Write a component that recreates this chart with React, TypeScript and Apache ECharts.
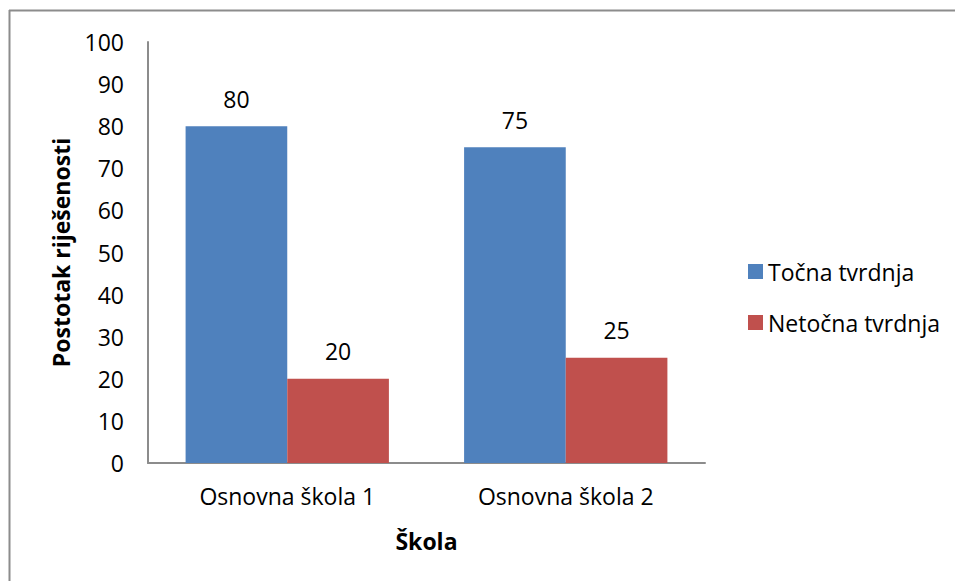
import React, { useEffect, useRef } from "react";
import * as echarts from "echarts";

const categories = ["Osnovna škola 1", "Osnovna škola 2"];
const tocna = [80, 75];
const netocna = [20, 25];
const seriesNames = ["Točna tvrdnja", "Netočna tvrdnja"];
const yTitle = "Postotak riješenosti";
const xTitle = "Škola";

const FONT = "'Open Sans', 'Noto Sans', sans-serif";

export default function App() {
  const ref = useRef<HTMLDivElement>(null);
  useEffect(() => {
    if (!ref.current) return;
    const chart = echarts.init(ref.current, undefined, { renderer: "svg" });
    const labelStyle = { fontFamily: FONT, fontSize: 23, color: "#000" };
    chart.setOption({
      animation: false,
      backgroundColor: "#fff",
      textStyle: { fontFamily: FONT },
      grid: { left: 148, right: 250, top: 42, bottom: 118, containLabel: false },
      graphic: [
        { type: "line", shape: { x1: 9, y1: 10.5, x2: 960, y2: 10.5 }, style: { stroke: "#8c8c8c", lineWidth: 2 } },
        { type: "line", shape: { x1: 9.5, y1: 10, x2: 9.5, y2: 590 }, style: { stroke: "#8c8c8c", lineWidth: 2 } },
      ],
      legend: {
        orient: "vertical",
        left: 748,
        top: 260,
        padding: 0,
        itemWidth: 15,
        itemHeight: 15,
        itemGap: 28,
        icon: "rect",
        textStyle: { ...labelStyle },
        data: seriesNames,
      },
      xAxis: {
        type: "category",
        data: categories,
        name: xTitle,
        nameLocation: "middle",
        nameGap: 66,
        nameTextStyle: { ...labelStyle, fontWeight: "bold" },
        axisLine: { lineStyle: { color: "#8c8c8c", width: 2 } },
        axisTick: { show: false },
        axisLabel: { ...labelStyle, margin: 21 },
      },
      yAxis: {
        type: "value",
        min: 0,
        max: 100,
        interval: 10,
        name: yTitle,
        nameLocation: "middle",
        nameGap: 76,
        nameTextStyle: { ...labelStyle, fontWeight: "bold" },
        axisLine: { show: true, lineStyle: { color: "#8c8c8c", width: 2 } },
        axisTick: { show: false },
        splitLine: { show: false },
        axisLabel: { ...labelStyle, margin: 24 },
      },
      series: [
        {
          name: seriesNames[0],
          type: "bar",
          data: tocna,
          barGap: "0%",
          barCategoryGap: "27%",
          itemStyle: { color: "#4F81BD" },
          label: { show: true, position: "top", distance: 16, ...labelStyle },
        },
        {
          name: seriesNames[1],
          type: "bar",
          data: netocna,
          itemStyle: { color: "#C0504D" },
          label: { show: true, position: "top", distance: 16, ...labelStyle },
        },
      ],
    });
    return () => chart.dispose();
  }, []);
  return (
    <div
      ref={ref}
      style={{ position: "absolute", left: 0, top: 0, width: 955, height: 581 }}
    />
  );
}
